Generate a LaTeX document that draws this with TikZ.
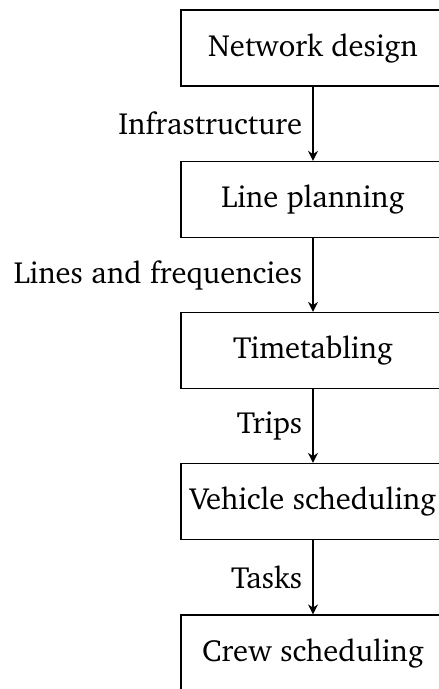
\documentclass[tikz,border=0pt]{standalone}
\usepackage[T1]{fontenc}
\usepackage{charter}
\usetikzlibrary{arrows.meta}
\tikzset{
  stage/.style={draw, line width=0.6pt, minimum width=132pt, minimum height=38pt,
    inner sep=0pt, font=\fontsize{15.3}{18}\selectfont},
  flow/.style={-{Stealth[length=5pt,width=5pt]}, line width=0.8pt},
  flowlabel/.style={midway, left, inner sep=5pt, font=\fontsize{15.3}{18}\selectfont}
}
\begin{document}
\begin{tikzpicture}[x=0.5pt,y=-0.5pt]
  \useasboundingbox (0,0) rectangle (438,689);
  \node[stage] (nd) at (313,48)    {Network design};
  \node[stage] (lp) at (313,199.5) {Line planning};
  \node[stage] (tt) at (313,350.5) {Timetabling};
  \node[stage] (vs) at (313,501.5) {Vehicle scheduling};
  \node[stage] (cs) at (313,653)   {Crew scheduling};
  \draw[flow] (nd) -- node[flowlabel] {Infrastructure} (lp);
  \draw[flow] (lp) -- node[flowlabel] {Lines and frequencies} (tt);
  \draw[flow] (tt) -- node[flowlabel] {Trips} (vs);
  \draw[flow] (vs) -- node[flowlabel] {Tasks} (cs);
\end{tikzpicture}
\end{document}
